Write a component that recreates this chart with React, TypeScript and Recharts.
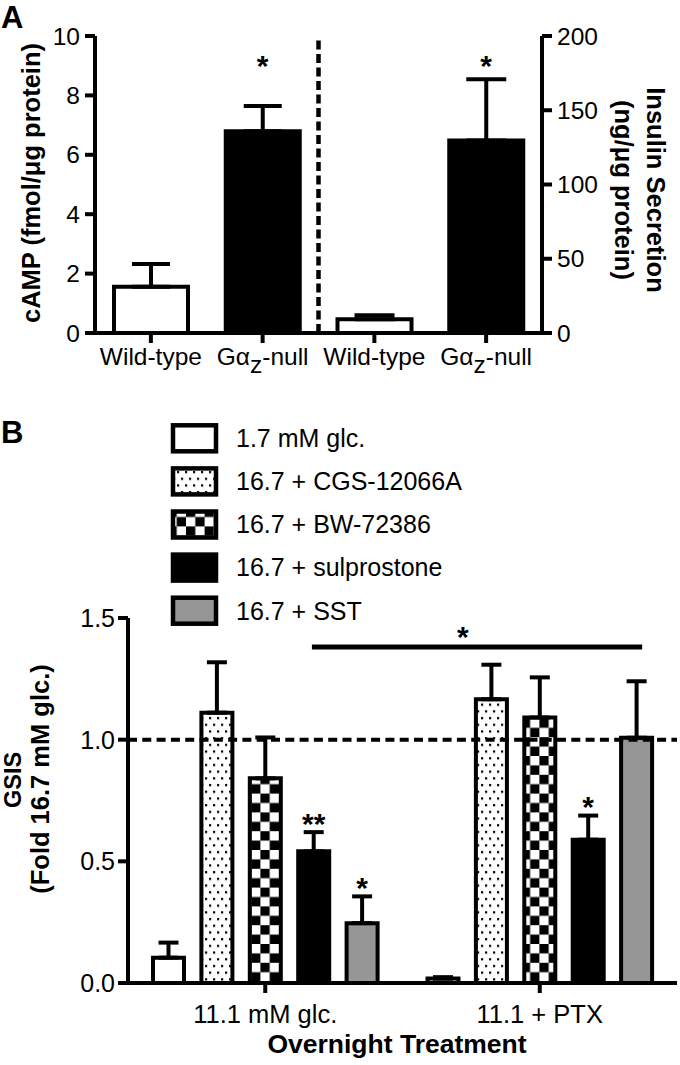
import React from 'react';
import {
  BarChart,
  Bar,
  LineChart,
  Line,
  XAxis,
  YAxis,
  ErrorBar,
  Cell,
  ReferenceLine,
  ReferenceDot,
  LabelList,
} from 'recharts';

const FONT = '"Liberation Sans", Arial, Helvetica, sans-serif';

// ---------------- Panel A data ----------------
const aKeys = ['wt1', 'ko1', 'wt2', 'ko2'];
const aTickMain = ['Wild-type', 'Gα', 'Wild-type', 'Gα'];
const aTickSub = ['', 'z', '', 'z'];
const aTickTail = ['', '-null', '', '-null'];
const aFills = ['#ffffff', '#000000', '#ffffff', '#000000'];
const campMean = [1.56, 6.79, null, null];
const campSem = [0.76, 0.85, null, null];
const insulinMean = [null, null, 9.2, 129.6];
const insulinSem = [null, null, 2.7, 41.3];
const campTicks = [0, 2, 4, 6, 8, 10];
const insulinTicks = [0, 50, 100, 150, 200];
const campStar = { key: 'ko1', y: 9.2, text: '*' };
const insulinStar = { key: 'ko2', y: 184, text: '*' };
const aDividerBefore = 'wt2'; // dashed divider sits at the start of this category

// ---------------- Panel B data ----------------
const bGroups = ['11.1 mM glc.', '11.1 + PTX'];
const bSeriesNames = [
  '1.7 mM glc.',
  '16.7 + CGS-12066A',
  '16.7 + BW-72386',
  '16.7 + sulprostone',
  '16.7 + SST',
];
const bFills = ['#ffffff', 'url(#dotsPat)', 'url(#checkPat)', '#000000', '#969696'];
const glc17Mean = [0.104, 0.018];
const glc17Sem = [0.062, 0.006];
const cgsMean = [1.111, 1.166];
const cgsSem = [0.207, 0.142];
const bwMean = [0.841, 1.091];
const bwSem = [0.168, 0.165];
const sulMean = [0.541, 0.589];
const sulSem = [0.079, 0.099];
const sstMean = [0.246, 1.008];
const sstSem = [0.11, 0.232];
const noSig = ['', ''];
const sulSig = ['**', '*'];
const sstSig = ['*', ''];
const gsisTicks = [0, 0.5, 1.0, 1.5];
const gsisBaseline = 1.0;
// significance bracket, x in group units (0..2 spans both groups)
const bracketX = [0, 0.67, 1.873, 2];
const bracketY = [null, 1.381, 1.381, null];
const bracketStar = { x: 1.22, y: 1.448, text: '*' };

const bMeans = [glc17Mean, cgsMean, bwMean, sulMean, sstMean];
const bSems = [glc17Sem, cgsSem, bwSem, sulSem, sstSem];
const bSigs = [noSig, noSig, noSig, sulSig, sstSig];

const aRows = aKeys.map((k, i) => ({
  key: k,
  camp: campMean[i],
  campErr: campSem[i] == null ? null : [0, campSem[i]],
  ins: insulinMean[i],
  insErr: insulinSem[i] == null ? null : [0, insulinSem[i]],
}));

const bRows = bGroups.map((g, i) => {
  const r: any = { group: g };
  bMeans.forEach((m, s) => {
    r['m' + s] = m[i];
    r['e' + s] = [0, bSems[s][i]];
  });
  return r;
});

const bracketRows = bracketX.map((x, i) => ({ x, y: bracketY[i] }));

const ATick = (props: any) => {
  const { x, y, payload } = props;
  const idx = aKeys.indexOf(payload.value);
  return (
    <text x={x} y={y} dy="0.71em" textAnchor="middle" fontSize={24.5} fontFamily={FONT} fill="#000">
      <tspan>{aTickMain[idx]}</tspan>
      {aTickSub[idx] ? <tspan dy={8}>{aTickSub[idx]}</tspan> : null}
      {aTickTail[idx] ? <tspan dy={-8}>{aTickTail[idx]}</tspan> : null}
    </text>
  );
};

const starAt = (text: string) => (props: any) => {
  const vb = props.viewBox || props;
  const cx = vb.x + (vb.width || 0) / 2;
  const cy = vb.y + (vb.height || 0) / 2;
  return (
    <text x={cx} y={cy} dy="0.55em" textAnchor="middle" fontSize={30} fontWeight="bold" fontFamily={FONT} fill="#000">
      {text}
    </text>
  );
};

const makeBarStar = (s: number) => (props: any) => {
  const vb = props.viewBox || props;
  let index = props.index;
  if (index == null) index = bMeans[s].indexOf(props.value);
  if (index == null || index < 0) return null;
  const sig = bSigs[s][index];
  if (!sig) return null;
  const mean = bMeans[s][index];
  const sem = bSems[s][index];
  const top = Math.min(vb.y, vb.y + vb.height);
  const h = Math.abs(vb.height);
  const ppu = h / mean;
  const cy = top - sem * ppu - 15;
  return (
    <text x={vb.x + vb.width / 2} y={cy} dy="0.55em" textAnchor="middle" fontSize={30} fontWeight="bold" fontFamily={FONT} fill="#000">
      {sig}
    </text>
  );
};

const axisStyle = { stroke: '#000', strokeWidth: 4 };
const B_MARGIN = { top: 238, right: 3, bottom: 0, left: 0 };

export default function App() {
  return (
    <div style={{ position: 'absolute', left: 0, top: 0, width: 680, height: 1065, background: '#fff', fontFamily: FONT }}>
      <svg width={680} height={1065} style={{ position: 'absolute', left: 0, top: 0, pointerEvents: 'none' }}>
        <defs>
          <pattern id="dotsPat" patternUnits="userSpaceOnUse" width={8} height={13.4}>
            <rect x={0} y={0} width={8} height={13.4} fill="#fff" />
            <rect x={1} y={2} width={2.2} height={2.2} fill="#000" />
            <rect x={5} y={8.7} width={2.2} height={2.2} fill="#000" />
          </pattern>
          <pattern id="checkPat" patternUnits="userSpaceOnUse" width={18.6} height={18.8}>
            <rect x={0} y={0} width={18.6} height={18.8} fill="#fff" />
            <rect x={0} y={0} width={9.3} height={9.4} fill="#000" />
            <rect x={9.3} y={9.4} width={9.3} height={9.4} fill="#000" />
          </pattern>
        </defs>
        <g fontFamily={FONT} fill="#000">
          <text x={1} y={28} fontSize={31} fontWeight="bold">A</text>
          <text transform="translate(39.7,183) rotate(-90)" textAnchor="middle" fontSize={25.5} fontWeight="bold">
            cAMP (fmol/μg protein)
          </text>
          <text transform="translate(647,190) rotate(90)" textAnchor="middle" fontSize={25.5} fontWeight="bold">
            Insulin Secretion
          </text>
          <text transform="translate(615,190) rotate(90)" textAnchor="middle" fontSize={25.5} fontWeight="bold">
            (ng/μg protein)
          </text>
          <text x={1} y={443} fontSize={31} fontWeight="bold">B</text>
          {bSeriesNames.map((name, i) => {
            const cy = 438.3 + i * 43.1;
            return (
              <g key={name}>
                <rect x={173} y={cy - 13} width={43} height={26} fill={bFills[i]} stroke="#000" strokeWidth={4.5} />
                <text x={236} y={cy + 8.8} fontSize={25}>{name}</text>
              </g>
            );
          })}
          <text transform="translate(21,780) rotate(-90)" textAnchor="middle" fontSize={23.5} fontWeight="bold">
            GSIS
          </text>
          <text transform="translate(49,779) rotate(-90)" textAnchor="middle" fontSize={25.5} fontWeight="bold">
            (Fold 16.7 mM glc.)
          </text>
          <text x={397} y={1053} textAnchor="middle" fontSize={26.5} fontWeight="bold">
            Overnight Treatment
          </text>
        </g>
      </svg>

      {/* Panel A */}
      <div style={{ position: 'absolute', left: 0, top: 0 }}>
        <BarChart width={680} height={380} data={aRows} margin={{ top: 36, right: 0, bottom: 0, left: 0 }}>
          <XAxis
            xAxisId="cat"
            dataKey="key"
            type="category"
            height={47}
            tickSize={10}
            tickMargin={5}
            axisLine={axisStyle}
            tickLine={axisStyle}
            tick={<ATick />}
            interval={0}
          />
          <XAxis xAxisId="cat2" dataKey="key" type="category" hide />
          <YAxis
            yAxisId="left"
            width={95}
            domain={[0, 10]}
            ticks={campTicks}
            interval={0}
            tickSize={10}
            tickMargin={5}
            axisLine={axisStyle}
            tickLine={axisStyle}
            tick={{ fill: '#000', fontSize: 24.5, fontFamily: FONT }}
          />
          <YAxis
            yAxisId="right"
            orientation="right"
            width={138}
            domain={[0, 200]}
            ticks={insulinTicks}
            interval={0}
            tickSize={10}
            tickMargin={5}
            axisLine={axisStyle}
            tickLine={axisStyle}
            tick={{ fill: '#000', fontSize: 24.5, fontFamily: FONT, textAnchor: 'start' }}
          />
          <ReferenceLine
            xAxisId="cat"
            yAxisId="left"
            x={aDividerBefore}
            position="start"
            stroke="#000"
            strokeWidth={4.5}
            strokeDasharray="9 4.5"
          />
          <Bar xAxisId="cat" yAxisId="left" dataKey="camp" barSize={74} stroke="#000" strokeWidth={4} isAnimationActive={false}>
            {aRows.map((r, i) => (
              <Cell key={r.key} fill={aFills[i]} />
            ))}
            <ErrorBar dataKey="campErr" width={19} stroke="#000" strokeWidth={4} isAnimationActive={false} />
          </Bar>
          <Bar xAxisId="cat2" yAxisId="right" dataKey="ins" barSize={74} stroke="#000" strokeWidth={4} isAnimationActive={false}>
            {aRows.map((r, i) => (
              <Cell key={r.key} fill={aFills[i]} />
            ))}
            <ErrorBar dataKey="insErr" width={20} stroke="#000" strokeWidth={4} isAnimationActive={false} />
          </Bar>
          <ReferenceDot xAxisId="cat" yAxisId="left" x={campStar.key} y={campStar.y} r={0} fill="none" stroke="none" label={starAt(campStar.text)} />
          <ReferenceDot xAxisId="cat" yAxisId="right" x={insulinStar.key} y={insulinStar.y} r={0} fill="none" stroke="none" label={starAt(insulinStar.text)} />
        </BarChart>
      </div>

      {/* Panel B */}
      <div style={{ position: 'absolute', left: 0, top: 380 }}>
        <BarChart width={680} height={685} data={bRows} margin={B_MARGIN} barSize={31} barGap={17.4}>
          <XAxis
            xAxisId="cat"
            dataKey="group"
            type="category"
            height={82}
            tickSize={10}
            tickMargin={12}
            axisLine={axisStyle}
            tickLine={axisStyle}
            interval={0}
            tick={{ fill: '#000', fontSize: 25.5, fontFamily: FONT }}
          />
          <YAxis
            yAxisId="y"
            width={128}
            domain={[0, 1.5]}
            ticks={gsisTicks}
            interval={0}
            tickSize={10}
            tickMargin={3}
            axisLine={axisStyle}
            tickLine={axisStyle}
            tickFormatter={(v: number) => v.toFixed(1)}
            tick={{ fill: '#000', fontSize: 25, fontFamily: FONT }}
          />
          {bSeriesNames.map((name, s) => (
            <Bar
              key={name}
              name={name}
              xAxisId="cat"
              yAxisId="y"
              dataKey={'m' + s}
              fill={bFills[s]}
              stroke="#000"
              strokeWidth={4}
              isAnimationActive={false}
            >
              <ErrorBar dataKey={'e' + s} width={10} stroke="#000" strokeWidth={4} isAnimationActive={false} />
              <LabelList dataKey={'m' + s} content={makeBarStar(s)} />
            </Bar>
          ))}
          <ReferenceLine
            xAxisId="cat"
            yAxisId="y"
            y={gsisBaseline}
            stroke="#000"
            strokeWidth={4}
            strokeDasharray="9 5.3"
          />
        </BarChart>
      </div>

      {/* Panel B significance bracket (same plot area, numeric group axis) */}
      <div style={{ position: 'absolute', left: 0, top: 380, pointerEvents: 'none' }}>
        <LineChart
          width={680}
          height={685}
          data={bracketRows}
          margin={{ top: 238, right: 3, bottom: 82, left: 128 }}
        >
          <XAxis dataKey="x" type="number" domain={[0, 2]} allowDataOverflow hide />
          <YAxis domain={[0, 1.5]} allowDataOverflow hide />
          <Line
            dataKey="y"
            stroke="#000"
            strokeWidth={5}
            dot={false}
            activeDot={false}
            connectNulls={false}
            isAnimationActive={false}
          />
          <ReferenceDot
            x={bracketStar.x}
            y={bracketStar.y}
            r={0}
            fill="none"
            stroke="none"
            label={starAt(bracketStar.text)}
          />
        </LineChart>
      </div>
    </div>
  );
}
